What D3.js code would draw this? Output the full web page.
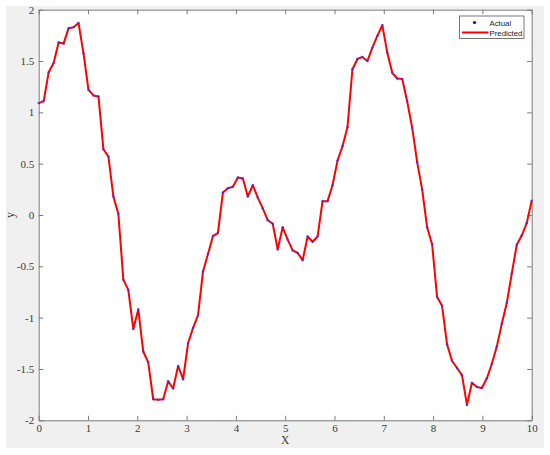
<!DOCTYPE html>
<html>
<head>
<meta charset="utf-8">
<script src="https://cdn.jsdelivr.net/npm/d3@7"></script>
<style>
  body { margin: 0; background: #fff; }
</style>
</head>
<body>
<div id="chart"></div>
<script>
// x positions (100 samples over 0..10)
var xValues = [0, 0.101, 0.202, 0.303, 0.404, 0.505, 0.606, 0.707, 0.808, 0.909,
  1.010, 1.111, 1.212, 1.313, 1.414, 1.515, 1.616, 1.717, 1.818, 1.919,
  2.020, 2.121, 2.222, 2.323, 2.424, 2.525, 2.626, 2.727, 2.828, 2.929,
  3.030, 3.131, 3.232, 3.333, 3.434, 3.535, 3.636, 3.737, 3.838, 3.939,
  4.040, 4.141, 4.242, 4.343, 4.444, 4.545, 4.646, 4.747, 4.848, 4.949,
  5.051, 5.152, 5.253, 5.354, 5.455, 5.556, 5.657, 5.758, 5.859, 5.960,
  6.061, 6.162, 6.263, 6.364, 6.465, 6.566, 6.667, 6.768, 6.869, 6.970,
  7.071, 7.172, 7.273, 7.374, 7.475, 7.576, 7.677, 7.778, 7.879, 7.980,
  8.081, 8.182, 8.283, 8.384, 8.485, 8.586, 8.687, 8.788, 8.889, 8.990,
  9.091, 9.192, 9.293, 9.394, 9.495, 9.596, 9.697, 9.798, 9.899, 10];

// actual values (blue dots)
var actual = [1.09, 1.11, 1.39, 1.48, 1.68, 1.67, 1.82, 1.83, 1.87, 1.575,
  1.22, 1.165, 1.155, 0.64, 0.57, 0.18, 0.01, -0.63, -0.73, -1.11,
  -0.92, -1.33, -1.435, -1.795, -1.80, -1.795, -1.62, -1.69, -1.47, -1.60,
  -1.25, -1.10, -0.975, -0.55, -0.38, -0.205, -0.175, 0.22, 0.26, 0.275,
  0.365, 0.355, 0.18, 0.29, 0.17, 0.065, -0.05, -0.085, -0.335, -0.12,
  -0.24, -0.345, -0.37, -0.44, -0.21, -0.26, -0.21, 0.135, 0.135, 0.29,
  0.53, 0.67, 0.855, 1.42, 1.52, 1.54, 1.50, 1.63, 1.745, 1.85,
  1.58, 1.385, 1.33, 1.325, 1.105, 0.85, 0.515, 0.25, -0.12, -0.285,
  -0.80, -0.885, -1.26, -1.42, -1.49, -1.56, -1.85, -1.635, -1.675, -1.685,
  -1.59, -1.45, -1.28, -1.06, -0.855, -0.57, -0.29, -0.20, -0.08, 0.14];

// predicted values (red line) - sits on top of the actual points
var predicted = [1.09, 1.11, 1.39, 1.48, 1.68, 1.67, 1.82, 1.83, 1.87, 1.575,
  1.22, 1.165, 1.155, 0.64, 0.57, 0.18, 0.01, -0.63, -0.73, -1.11,
  -0.92, -1.33, -1.435, -1.795, -1.80, -1.795, -1.62, -1.69, -1.47, -1.60,
  -1.25, -1.10, -0.975, -0.55, -0.38, -0.205, -0.175, 0.22, 0.26, 0.275,
  0.365, 0.355, 0.18, 0.29, 0.17, 0.065, -0.05, -0.085, -0.335, -0.12,
  -0.24, -0.345, -0.37, -0.44, -0.21, -0.26, -0.21, 0.135, 0.135, 0.29,
  0.53, 0.67, 0.855, 1.42, 1.52, 1.54, 1.50, 1.63, 1.745, 1.85,
  1.58, 1.385, 1.33, 1.325, 1.105, 0.85, 0.515, 0.25, -0.12, -0.285,
  -0.80, -0.885, -1.26, -1.42, -1.49, -1.56, -1.85, -1.635, -1.675, -1.685,
  -1.59, -1.45, -1.28, -1.06, -0.855, -0.57, -0.29, -0.20, -0.08, 0.14];

var xTicks = [0, 1, 2, 3, 4, 5, 6, 7, 8, 9, 10];
var yTicks = [-2, -1.5, -1, -0.5, 0, 0.5, 1, 1.5, 2];
var seriesNames = ['Actual', 'Predicted'];

//set margin variables
var W = 550, H = 455;
var margin = { top: 9.7, right: 18.3, bottom: 34.7, left: 38.7 },
    width = W - margin.left - margin.right,
    height = H - margin.top - margin.bottom;

var svg = d3.select('#chart')
  .append('svg')
  .attr('width', W)
  .attr('height', H);

// figure background (matlab grey)
svg.append('rect')
  .attr('x', 6).attr('y', 6)
  .attr('width', 538).attr('height', 442)
  .attr('fill', '#f0f0f0');

var g = svg.append('g')
  .attr('transform', 'translate(' + margin.left + ',' + margin.top + ')');

g.append('rect')
  .attr('width', width)
  .attr('height', height)
  .attr('fill', '#fff');

var xScale = d3.scaleLinear().domain([0, 10]).range([0, width]);
var yScale = d3.scaleLinear().domain([-2, 2]).range([height, 0]);

var fmt = function(d) { return String(d); };

// axes, ticks pointing inward
var xAxis = g.append('g')
  .attr('transform', 'translate(0,' + height + ')')
  .call(d3.axisBottom(xScale).tickValues(xTicks).tickFormat(fmt)
    .tickSizeInner(-4.5).tickSizeOuter(0).tickPadding(4));
var yAxis = g.append('g')
  .call(d3.axisLeft(yScale).tickValues(yTicks).tickFormat(fmt)
    .tickSizeInner(-4.5).tickSizeOuter(0).tickPadding(4.5));
var topAxis = g.append('g')
  .call(d3.axisTop(xScale).tickValues(xTicks).tickFormat('')
    .tickSizeInner(-4.5).tickSizeOuter(0));
var rightAxis = g.append('g')
  .attr('transform', 'translate(' + width + ',0)')
  .call(d3.axisRight(yScale).tickValues(yTicks).tickFormat('')
    .tickSizeInner(-4.5).tickSizeOuter(0));

g.selectAll('.domain, .tick line')
  .attr('stroke', '#7a7a7a')
  .attr('stroke-width', 1);
g.selectAll('.tick text')
  .attr('fill', '#3a3a3a')
  .style('font-family', '"Liberation Serif", "DejaVu Serif", serif')
  .style('font-size', '11px');

// axis labels
svg.append('text')
  .attr('x', margin.left + width / 2)
  .attr('y', 444)
  .attr('text-anchor', 'middle')
  .attr('fill', '#3a3a3a')
  .style('font-family', '"Liberation Serif", serif')
  .style('font-size', '11.5px')
  .text('X');

svg.append('text')
  .attr('transform', 'translate(14,' + (margin.top + height / 2) + ') rotate(-90)')
  .attr('text-anchor', 'middle')
  .attr('fill', '#3a3a3a')
  .style('font-family', '"Liberation Serif", serif')
  .style('font-size', '12px')
  .text('y');

// predicted line
var line = d3.line()
  .x(function(d, i) { return xScale(xValues[i]); })
  .y(function(d) { return yScale(d); });

g.append('path')
  .datum(predicted)
  .attr('d', line)
  .attr('fill', 'none')
  .attr('stroke', '#ff0000')
  .attr('stroke-width', 2)
  .attr('stroke-linejoin', 'round');

// actual points
g.selectAll('circle.actual')
  .data(actual)
  .enter()
  .append('circle')
  .attr('class', 'actual')
  .attr('cx', function(d, i) { return xScale(xValues[i]); })
  .attr('cy', function(d) { return yScale(d); })
  .attr('r', 1.2)
  .attr('fill', '#3030ff')
  .attr('opacity', 0.8);

// legend
var legend = svg.append('g').attr('transform', 'translate(459.5,16)');
legend.append('rect')
  .attr('width', 64.5)
  .attr('height', 22.5)
  .attr('fill', '#fff')
  .attr('stroke', '#555')
  .attr('stroke-width', 0.8);
legend.append('circle')
  .attr('cx', 15).attr('cy', 6.5).attr('r', 1.6)
  .attr('fill', '#0000ff');
legend.append('line')
  .attr('x1', 2.5).attr('x2', 29)
  .attr('y1', 16.5).attr('y2', 16.5)
  .attr('stroke', '#ff0000')
  .attr('stroke-width', 2);
legend.selectAll('text')
  .data(seriesNames)
  .enter()
  .append('text')
  .attr('x', 30)
  .attr('y', function(d, i) { return 9.7 + i * 10; })
  .attr('fill', '#222')
  .style('font-family', '"Liberation Sans", Arial, sans-serif')
  .style('font-size', '7.8px')
  .text(function(d) { return d; });
</script>
</body>
</html>
